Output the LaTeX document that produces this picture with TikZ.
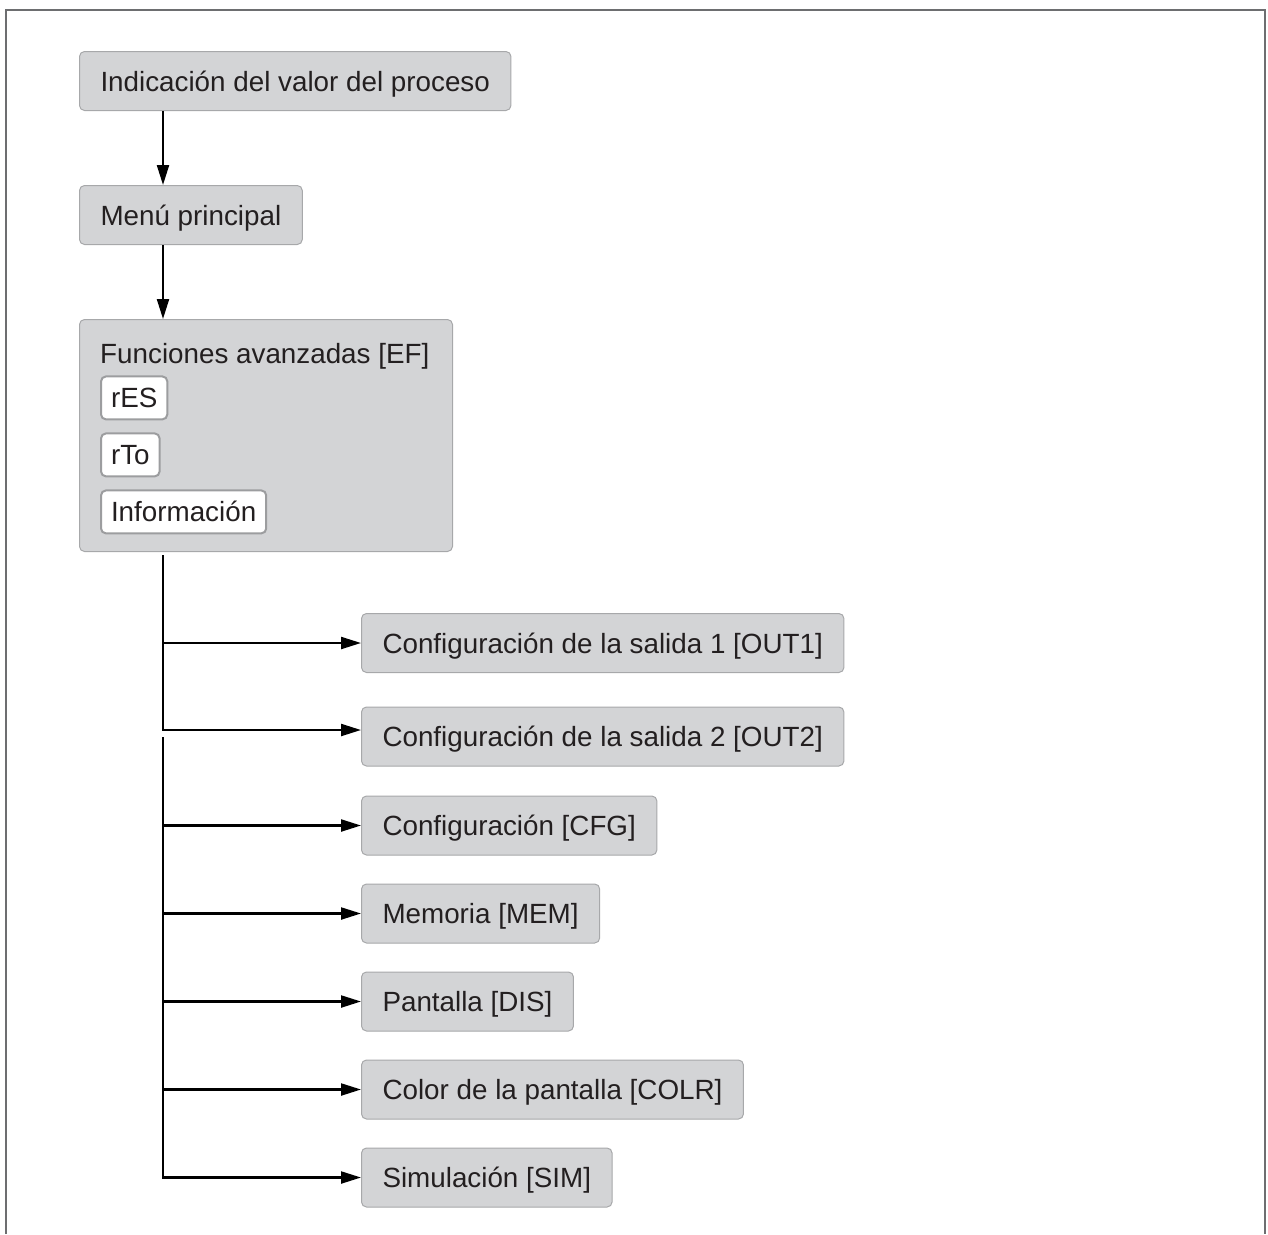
\documentclass[tikz,border=0pt]{standalone}
\usepackage{fontspec}
\setmainfont{Liberation Sans}
\usepackage{tikz}
\usetikzlibrary{positioning,arrows.meta}

\definecolor{boxgray}{HTML}{D3D4D6}
\definecolor{boxline}{HTML}{A7A8AA}
\definecolor{subline}{HTML}{9C9D9F}
\definecolor{framegray}{HTML}{6D6E70}
\definecolor{textdark}{HTML}{231F20}
\newcommand{\menufont}{\fontsize{27.8pt}{33pt}\selectfont}

\begin{document}
\begin{tikzpicture}[
			menubox/.style={rectangle, rounded corners=5pt, draw=boxline, line width=1pt, fill=boxgray, text=textdark, font=\menufont, text height=20pt, text depth=0pt, inner xsep=21pt, inner ysep=0pt, minimum height=59pt},
			subbox/.style={rectangle, rounded corners=5pt, draw=subline, line width=2pt, fill=white, text=textdark, font=\menufont, text height=20pt, text depth=0pt, inner xsep=10pt, inner ysep=0pt, minimum height=43pt},
			titletext/.style={text=textdark, font=\menufont, text height=20pt, text depth=0pt, inner sep=0pt},
			flow/.style={-{Triangle[length=20pt,width=12pt]}, line width=2.2pt},
			]
			\useasboundingbox (0,0) rectangle (1268pt,-1234pt);
			%Frame
			\draw[framegray, line width=2.5pt] (6pt,-1234pt) -- (6pt,-10pt) -- (1265pt,-10pt) -- (1265pt,-1234pt);
			
			%Nodes
			\node[menubox, anchor=north west] (proc) at (79pt,-51pt) {Indicación del valor del proceso};
			\node[menubox, below=74pt of proc.south west, anchor=north west] (menu) {Menú principal};
			\node[menubox, below=74pt of menu.south west, anchor=north west, minimum width=373pt, minimum height=232pt] (ef) {};
			\node[titletext, below right=24.5pt and 21pt of ef.north west] (eftitle) {Funciones avanzadas [EF]};
			\node[subbox, below=11.5pt of eftitle.south west, anchor=north west] (res) {rES};
			\node[subbox, below=12pt of res.south west, anchor=north west] (rto) {rTo};
			\node[subbox, below=12pt of rto.south west, anchor=north west] (info) {Información};
			
			\node[menubox, below right=61pt and 282pt of ef.south west] (out1) {Configuración de la salida 1 [OUT1]};
			\node[menubox, below=33.5pt of out1.south west, anchor=north west] (out2) {Configuración de la salida 2 [OUT2]};
			\node[menubox, below=29pt of out2.south west, anchor=north west] (cfg) {Configuración [CFG]};
			\node[menubox, below=28pt of cfg.south west, anchor=north west] (mem) {Memoria [MEM]};
			\node[menubox, below=28pt of mem.south west, anchor=north west] (dis) {Pantalla [DIS]};
			\node[menubox, below=28pt of dis.south west, anchor=north west] (colr) {Color de la pantalla [COLR]};
			\node[menubox, below=28pt of colr.south west, anchor=north west] (sim) {Simulación [SIM]};
			
			\coordinate (trunk) at ([xshift=84pt]proc.south west);
			\coordinate (o2in) at ([yshift=6.5pt]out2.west);
			
			%Lines
			\draw[flow] (proc.south -| trunk) -- (menu.north -| trunk);
			\draw[flow] (menu.south -| trunk) -- (ef.north -| trunk);
			\draw[flow, shorten <=3pt] (ef.south -| trunk) -- (o2in -| trunk) -- (o2in);
			\draw[flow, shorten <=7pt] (o2in -| trunk) -- (sim.west -| trunk) -- (sim.west);
			\foreach \b in {out1,cfg,mem,dis,colr}
				\draw[flow] (\b.west -| trunk) -- (\b.west);
		\end{tikzpicture}
\end{document}
